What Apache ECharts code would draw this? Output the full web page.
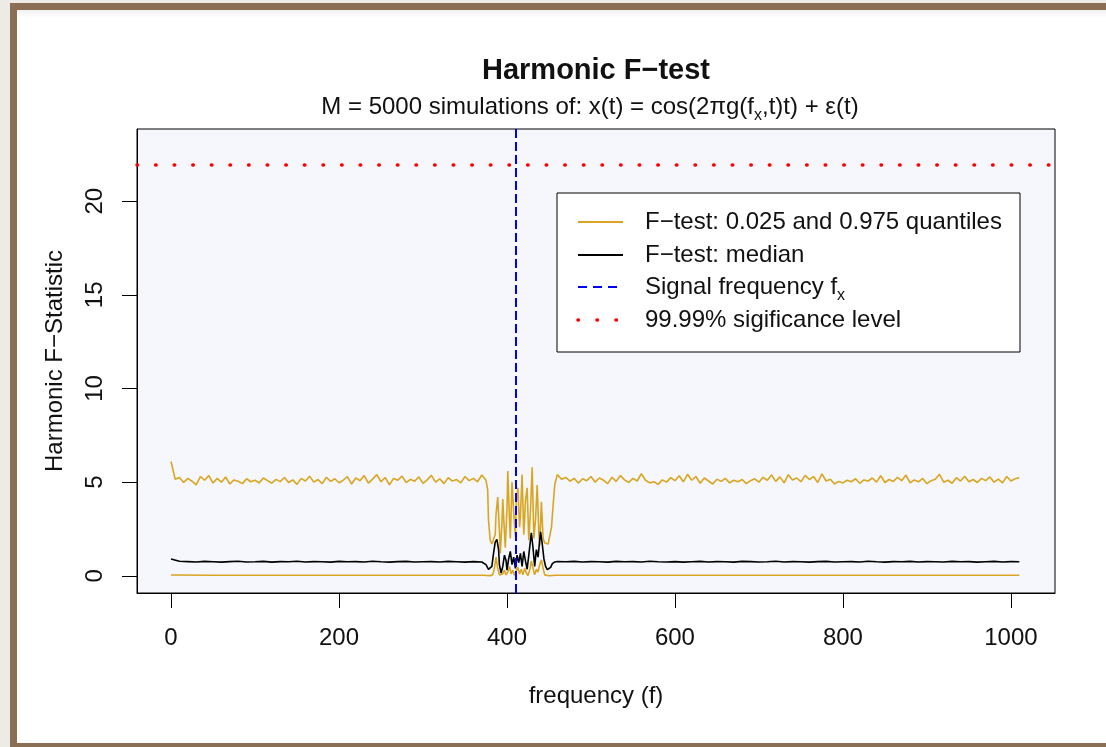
<!DOCTYPE html>
<html>
<head>
<meta charset="utf-8">
<script src="https://cdn.jsdelivr.net/npm/echarts@6/dist/echarts.min.js"></script>
<style>
  body { margin: 0; background: #EEEBE6; overflow: hidden; }
  #frame {
    position: absolute; left: 10px; top: 3px; width: 1200px; height: 733px;
    border: 7px solid #8B6F55; background: #fff;
    box-shadow: inset 0 8px 10px -8px rgba(0,0,0,0.12);
  }
  #chart { position: absolute; left: 0; top: 0; width: 1106px; height: 747px; }
</style>
</head>
<body>
<div id="frame"></div>
<div id="chart"></div>
<script>
const FONT = "'Liberation Sans', Arial, Helvetica, sans-serif";

// frequency grid of the two flat stretches
const gridStep = 5;
const leftStart = 0;
const rightStart = 460;
const medStep = 10;

// 0.975 quantile, f = 0..375 step 5
const qHiLeft = [
  6.10, 5.15, 5.25, 4.98, 5.20, 5.05, 4.85, 5.30, 5.10, 5.35, 4.95, 5.20, 5.00, 5.28, 4.90, 5.12, 5.05, 4.92, 5.18, 5.02,
  5.10, 4.96, 5.22, 5.08, 4.94, 5.15, 5.03, 5.25, 4.98, 5.12, 4.88, 5.20, 5.06, 5.32, 5.00, 5.14, 4.92, 5.26, 5.04, 5.18,
  4.97, 5.10, 5.30, 4.90, 5.22, 5.08, 5.35, 4.95, 5.16, 5.40, 5.02, 5.25, 4.86, 5.20, 5.10, 5.32, 4.98, 5.15, 5.05, 5.28,
  4.94, 5.12, 5.36, 5.00, 5.18, 4.92, 5.24, 5.06, 5.14, 4.96, 5.30, 5.08, 5.20, 5.02, 5.38, 5.10
];
// 0.975 quantile around the signal, [f, value]
const qHiSignal = [
  [377, 4.6], [378, 3.0], [380, 1.9], [382, 1.7], [384, 1.75], [386, 2.2], [387, 3.3], [389, 4.2], [391, 2.4], [392, 1.2],
  [394, 2.8], [395, 4.1], [397, 2.3], [398, 1.5], [400, 3.6], [401, 5.6], [403, 3.0], [404, 2.0], [406, 5.0], [408, 3.4],
  [410, 2.1], [411, 3.9], [413, 4.7], [415, 2.6], [416, 3.2], [418, 5.4], [420, 2.2], [421, 3.0], [422, 4.0], [424, 4.7],
  [426, 1.9], [428, 3.5], [430, 5.8], [432, 2.0], [434, 3.0], [436, 4.85], [438, 2.2], [439, 1.6], [441, 3.95], [443, 2.0],
  [445, 1.75], [447, 1.65], [449, 1.7], [451, 1.8], [453, 2.6], [455, 3.8], [457, 4.9]
];
// 0.975 quantile, f = 460..1010 step 5
const qHiRight = [
  5.40, 5.15, 5.25, 5.05, 5.20, 4.95, 5.18, 5.08, 5.30, 5.00, 5.22, 5.10, 4.92, 5.26, 5.04, 5.35, 5.12, 4.98, 5.20, 5.06,
  5.45, 5.10, 4.96, 5.02, 4.88, 5.12, 5.00, 5.24, 5.08, 5.34, 5.02, 5.42, 5.10, 5.30, 4.94, 5.22, 5.06, 4.90, 5.16, 5.04,
  5.20, 4.96, 5.10, 5.02, 5.14, 4.92, 5.08, 5.18, 5.00, 5.26, 5.10, 5.38, 5.04, 5.28, 4.96, 5.40, 5.12, 5.22, 5.02, 5.36,
  5.14, 5.30, 4.98, 5.44, 5.06, 5.16, 4.90, 5.04, 4.96, 5.10, 5.02, 5.18, 4.94, 5.12, 5.06, 5.22, 5.00, 5.34, 4.98, 5.14,
  5.04, 5.26, 5.08, 5.38, 4.96, 5.12, 5.02, 5.20, 4.92, 5.08, 5.16, 5.42, 5.00, 5.10, 4.94, 5.24, 5.06, 5.32, 5.02, 5.14,
  4.98, 5.20, 5.08, 5.28, 5.00, 5.16, 4.96, 5.30, 5.06, 5.18, 5.24
];

// 0.025 quantile, [f, value]
const qLo = [
  [0, 0.04], [50, 0.03], [100, 0.03], [150, 0.03], [200, 0.03], [250, 0.03], [300, 0.03], [350, 0.03], [372, 0.03],
  [376, 0.02], [380, 0.01], [383, 0.05], [385, 0.4], [387, 1.0], [389, 0.4], [391, 0.05], [393, 0.0], [395, 0.1],
  [397, 0.3], [399, 0.05], [401, 0.2], [403, 0.5], [405, 0.1], [407, 0.3], [409, 0.02], [411, 0.25], [413, 0.45],
  [415, 0.1], [417, 0.35], [419, 0.05], [421, 0.4], [423, 0.15], [425, 0.02], [427, 0.3], [429, 0.8], [431, 0.4],
  [433, 0.05], [435, 0.35], [437, 0.2], [439, 0.6], [441, 0.85], [443, 0.4], [445, 0.05], [447, 0.01], [450, 0.0],
  [454, 0.02], [458, 0.03], [500, 0.03], [550, 0.03], [600, 0.03], [650, 0.03], [700, 0.03], [750, 0.03], [800, 0.03],
  [850, 0.03], [900, 0.03], [950, 0.03], [1010, 0.03]
];

// median, f = 0..370 step 10
const medLeft = [
  0.90, 0.78, 0.76, 0.74, 0.77, 0.75, 0.73, 0.76, 0.78, 0.74, 0.75, 0.77, 0.73, 0.76, 0.75, 0.78, 0.74, 0.76, 0.75, 0.73,
  0.77, 0.75, 0.76, 0.74, 0.78, 0.75, 0.73, 0.76, 0.77, 0.74, 0.75, 0.76, 0.74, 0.77, 0.75, 0.73, 0.76, 0.74
];
const medSignal = [
  [372, 0.72], [375, 0.6], [378, 0.35], [380, 0.3], [382, 0.5], [384, 1.2], [386, 1.8], [388, 1.95], [390, 1.4], [391, 0.6],
  [393, 0.15], [395, 0.5], [397, 1.1], [399, 0.8], [400, 0.3], [402, 0.9], [404, 1.3], [406, 0.6], [408, 1.0], [410, 0.4],
  [412, 1.1], [414, 0.7], [416, 1.2], [418, 0.5], [420, 1.3], [422, 0.8], [424, 0.35], [426, 1.1], [428, 1.9], [429, 2.3],
  [431, 1.5], [433, 0.5], [435, 1.4], [437, 1.0], [439, 1.9], [440, 2.35], [442, 1.7], [444, 0.9], [446, 0.5], [448, 0.33],
  [450, 0.32], [452, 0.45], [454, 0.65], [457, 0.74]
];
// median, f = 460..1010 step 10
const medRight = [
  0.76, 0.75, 0.77, 0.74, 0.76, 0.75, 0.73, 0.77, 0.75, 0.76, 0.74, 0.78, 0.75, 0.74, 0.76, 0.73, 0.75, 0.77, 0.74, 0.76,
  0.75, 0.73, 0.77, 0.76, 0.74, 0.75, 0.78, 0.74, 0.76, 0.75, 0.73, 0.76, 0.77, 0.74, 0.75, 0.76, 0.74, 0.78, 0.75, 0.73,
  0.76, 0.75, 0.77, 0.74, 0.76, 0.75, 0.74, 0.77, 0.75, 0.76, 0.73, 0.75, 0.77, 0.74, 0.76, 0.75
];

const signalFreq = 410;
const sigLevel = 21.95;
const xTicks = [0, 200, 400, 600, 800, 1000];
const yTicks = [0, 5, 10, 15, 20];

const onGrid = (vals, start, step) => vals.map((v, i) => [start + i * step, v]);
const qHi = onGrid(qHiLeft, leftStart, gridStep).concat(qHiSignal, onGrid(qHiRight, rightStart, gridStep));
const med = onGrid(medLeft, leftStart, medStep).concat(medSignal, onGrid(medRight, rightStart, medStep));

const GOLD = '#DAA520';
const chart = echarts.init(document.getElementById('chart'));

const legendRows = [
  { y: 222, text: 'F\u2212test: 0.025 and 0.975 quantiles' },
  { y: 255, text: 'F\u2212test: median' },
  { y: 287, text: '{n|Signal frequency f}{s|x}' },
  { y: 320, text: '99.99% sigificance level' }
];
const richSub = {
  n: { fontSize: 24, fontFamily: FONT, lineHeight: 34, verticalAlign: 'middle', fill: '#111', color: '#111' },
  s: { fontSize: 16, fontFamily: FONT, lineHeight: 16, verticalAlign: 'bottom', fill: '#111', color: '#111' }
};
const plain = v => String(v);

const option = {
  animation: false,
  grid: {
    left: 137, top: 129, width: 918, height: 464,
    show: true, backgroundColor: '#F5F7FC', borderColor: '#000', borderWidth: 1,
    outerBoundsMode: 'none'
  },
  xAxis: {
    type: 'value', min: -40.5, max: 1052.5,
    name: 'frequency (f)', nameLocation: 'middle', nameGap: 91,
    nameTextStyle: { fontSize: 24, fontFamily: FONT, color: '#111' },
    axisLine: { show: true, onZero: false, lineStyle: { color: '#000', width: 1 } },
    axisTick: { show: true, length: 15, customValues: xTicks, lineStyle: { color: '#000', width: 1 } },
    axisLabel: { customValues: xTicks, formatter: plain, margin: 33, fontSize: 24, fontFamily: FONT, color: '#111' },
    splitLine: { show: false }
  },
  yAxis: {
    type: 'value', min: -0.917, max: 23.85,
    name: 'Harmonic F\u2212Statistic', nameLocation: 'middle', nameGap: 70,
    nameTextStyle: { fontSize: 24, fontFamily: FONT, color: '#111' },
    axisLine: { show: true, onZero: false, lineStyle: { color: '#000', width: 1 } },
    axisTick: { show: true, length: 15, customValues: yTicks, lineStyle: { color: '#000', width: 1 } },
    axisLabel: { customValues: yTicks, formatter: plain, rotate: 90, margin: 30, fontSize: 24, fontFamily: FONT, color: '#111' },
    splitLine: { show: false }
  },
  series: [
    {
      name: 'upper', type: 'line', data: qHi, showSymbol: false,
      lineStyle: { color: GOLD, width: 1.6 }, z: 2
    },
    {
      name: 'lower', type: 'line', data: qLo, showSymbol: false,
      lineStyle: { color: GOLD, width: 1.6 }, z: 2
    },
    {
      name: 'median', type: 'line', data: med, showSymbol: false,
      lineStyle: { color: '#000', width: 1.6 }, z: 3
    },
    {
      name: 'signal', type: 'line', data: [], z: 5,
      markLine: {
        silent: true, symbol: ['none', 'none'], label: { show: false },
        lineStyle: { color: '#0000FF', width: 2, type: [9, 4] },
        data: [{ xAxis: signalFreq }]
      }
    },
    {
      name: 'level', type: 'line', data: [], z: 5,
      markLine: {
        silent: true, symbol: ['none', 'none'], label: { show: false },
        lineStyle: { color: '#FF0000', width: 3.5, type: [0.5, 18.1], cap: 'round' },
        data: [{ yAxis: sigLevel }]
      }
    }
  ],
  graphic: [
    {
      type: 'text', x: 596, y: 71, z: 10,
      style: { text: 'Harmonic F\u2212test', fontSize: 29, fontWeight: 'bold', fontFamily: FONT,
        fill: '#111', align: 'center', verticalAlign: 'middle' }
    },
    {
      type: 'text', x: 590, y: 107, z: 10,
      style: {
        text: '{n|M = 5000 simulations of: x(t) = cos(2\u03c0g(f}{s|x}{n|,t)t) + \u03b5(t)}',
        rich: richSub, align: 'center', verticalAlign: 'middle'
      }
    },
    {
      type: 'rect', z: 10,
      shape: { x: 557, y: 193, width: 463, height: 159 },
      style: { fill: '#fff', stroke: '#000', lineWidth: 1 }
    },
    {
      type: 'line', z: 11, shape: { x1: 578, y1: legendRows[0].y, x2: 623, y2: legendRows[0].y },
      style: { stroke: GOLD, lineWidth: 2 }
    },
    {
      type: 'line', z: 11, shape: { x1: 578, y1: legendRows[1].y, x2: 623, y2: legendRows[1].y },
      style: { stroke: '#000', lineWidth: 2 }
    },
    {
      type: 'line', z: 11, shape: { x1: 578, y1: legendRows[2].y, x2: 623, y2: legendRows[2].y },
      style: { stroke: '#0000FF', lineWidth: 2, lineDash: [9, 6] }
    },
    {
      type: 'line', z: 11, shape: { x1: 578, y1: legendRows[3].y, x2: 623, y2: legendRows[3].y },
      style: { stroke: '#FF0000', lineWidth: 3.5, lineDash: [0.5, 18.5], lineCap: 'round' }
    }
  ].concat(legendRows.map(r => ({
    type: 'text', x: 645, y: r.y, z: 11,
    style: { text: r.text, rich: richSub, fontSize: 24, fontFamily: FONT, fill: '#111',
      align: 'left', verticalAlign: 'middle' }
  })))
};
chart.setOption(option);
</script>
</body>
</html>
